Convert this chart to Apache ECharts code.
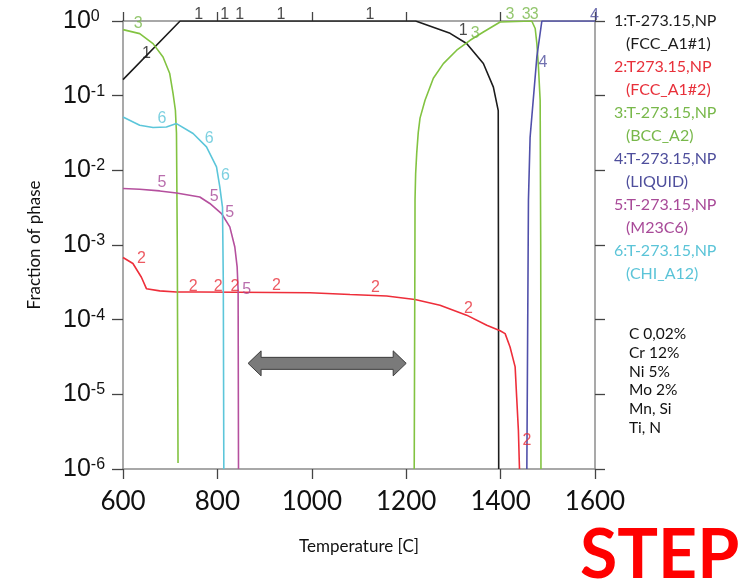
<!DOCTYPE html>
<html>
  <head>
    <meta charset="utf-8" />
    <title>STEP phase fractions</title>
    <script src="https://cdn.jsdelivr.net/npm/echarts@6.0.0/dist/echarts.min.js"></script>
  </head>
  <body style="margin:0;background:#fff">
    <div id="main" style="width: 739px;height:584px;"></div>
    <script type="text/javascript">
      // temperature [C] vs fraction of phase
      var fcc1 = [[600,0.164],[721,1],[1220,1],[1293,0.684],[1328,0.50],[1363.5,0.27],[1384.7,0.13],[1395,0.063],[1396,1e-6]];
      var fcc2 = [[600,6.8e-4],[621,5.65e-4],[639,3.7e-4],[649.6,2.6e-4],[677.8,2.43e-4],[713,2.35e-4],[763,2.35e-4],[996,2.29e-4],
                  [1081,2.17e-4],[1158.6,2.07e-4],[1218.6,1.86e-4],[1271.6,1.56e-4],[1328,1.15e-4],[1370.7,8.4e-5],[1399,7.1e-5],
                  [1409.6,6.5e-5],[1420,4.3e-5],[1430.8,2.33e-5],[1434,9.3e-6],[1437.7,3.3e-6],[1440,1e-6]];
      var bccLow = [[600,0.767],[635.4,0.678],[663.6,0.498],[684.8,0.33],[699,0.198],[706,0.107],[711,0.0638],[713.3,0.0316],[715,1e-3],[716.6,1.2e-6]];
      var bccHigh = [[1217,1e-6],[1218.5,1e-3],[1218.7,4e-3],[1220,0.009],[1222.3,0.017],[1225.5,0.032],[1229.3,0.05],[1239.9,0.087],
                     [1257.5,0.171],[1278.7,0.269],[1307,0.406],[1335.3,0.552],[1363.5,0.713],[1399,0.97],[1401,1],[1466,1],
                     [1473.3,0.794],[1476.8,0.5],[1480.2,0.242],[1483.8,0.087],[1485,1e-3],[1485.5,1e-6]];
      var liquid = [[1455.6,1e-6],[1459,4e-3],[1462.5,0.0277],[1476.8,0.33],[1487.4,1],[1600,1]];
      var m23c6 = [[600,5.7e-3],[635.4,5.58e-3],[677.8,5.3e-3],[713.3,4.98e-3],[762.7,4.4e-3],[783.9,3.6e-3],[808.7,2.64e-3],
                   [826.3,1.75e-3],[836.9,9.4e-4],[841.8,5.1e-4],[843.9,2.5e-4],[844.7,1e-6]];
      var chi = [[600,0.0519],[635.4,0.0402],[663.6,0.0374],[692,0.0381],[713.3,0.0423],[748.5,0.0311],[776.9,0.0206],
                 [798.1,0.0111],[805.1,6.0e-3],[810.8,3.2e-3],[812.5,3.2e-4],[813.6,1e-6]];

      // curve number labels (temperature, fraction)
      var labels1 = [[649.6,0.366],[760.6,1.21],[815.7,1.21],[847.5,1.21],[934.5,1.21],[1123.3,1.21],[1320.6,0.75]];
      var labels2 = [[639,6.6e-4],[748.5,2.8e-4],[801.5,2.8e-4],[837,2.8e-4],[925,2.9e-4],[1135,2.7e-4],[1332,1.41e-4],[1456,2.4e-6]];
      var labels3 = [[632,0.92],[1346,0.68],[1420,1.23],[1454,1.23],[1471,1.23]];
      var labels4 = [[1599,1.19],[1489.5,0.28]];
      var labels5 = [[682.7,6.8e-3],[793,4.4e-3],[826,2.7e-3],[862,2.5e-4]];
      var labels6 = [[682.7,0.0493],[782.4,0.0267],[817.2,8.4e-3]];

      var legendLines = [
        ['1:T-273.15,NP', '(FCC_A1#1)'],
        ['2:T273.15,NP', '(FCC_A1#2)'],
        ['3:T-273.15,NP', '(BCC_A2)'],
        ['4:T-273.15,NP', '(LIQUID)'],
        ['5:T-273.15,NP', '(M23C6)'],
        ['6:T-273.15,NP', '(CHI_A12)']
      ];
      var composition = ['C 0,02%', 'Cr 12%', 'Ni 5%', 'Mo 2%', 'Mn, Si', 'Ti, N'];
      var arrowSpan = [865, 1200];
      var arrowLevel = 2.6e-5;

      var lineColors = ['#1c1c1c', '#ee2e3a', '#82c341', '#5050aa', '#b5509e', '#5cc6da'];
      var textColors = ['#1c1c1c', '#e8303a', '#78b84a', '#4e4e9c', '#a84a98', '#5bc4d8'];

      var chartDom = document.getElementById('main');
      var myChart = echarts.init(chartDom);

      function lineSeries(data, i) {
        return {
          type: 'line', data: data, showSymbol: false, symbol: 'none',
          lineStyle: { color: lineColors[i], width: 1.6 }, silent: true
        };
      }
      function labelSeries(data, i) {
        return {
          type: 'scatter', data: data, symbolSize: 1, clip: false, silent: true, z: 5,
          itemStyle: { color: 'transparent' },
          label: {
            show: true, position: 'inside', formatter: String(i + 1),
            color: textColors[i], fontSize: 16, fontFamily: 'Liberation Sans'
          }
        };
      }

      var axisGrey = '#8c8c8c';
      var option = {
        animation: false,
        grid: { left: 123, right: 144, top: 21, bottom: 115 },
        xAxis: [
          {
            type: 'value', min: 600, max: 1600, interval: 200,
            name: 'Temperature [C]', nameLocation: 'middle', nameGap: 69,
            nameTextStyle: { fontSize: 17, fontFamily: 'Lato', color: '#111' },
            axisLine: { lineStyle: { color: axisGrey, width: 1.5 } },
            axisTick: { length: 10, lineStyle: { color: '#444', width: 1.3 } },
            axisLabel: { margin: 20, fontSize: 26, fontFamily: 'Lato', color: '#111',
              formatter: function (v) { return String(v); } },
            splitLine: { show: false }
          },
          {
            type: 'value', min: 600, max: 1600, interval: 200, position: 'top',
            axisLine: { lineStyle: { color: axisGrey, width: 1.5 } },
            axisTick: { length: 9, lineStyle: { color: '#444', width: 1.3 } },
            axisLabel: { show: false }, splitLine: { show: false }
          }
        ],
        yAxis: [
          {
            type: 'log', logBase: 10, min: 1e-6, max: 1, interval: 1,
            name: 'Fraction of phase', nameLocation: 'middle', nameGap: 80,
            nameTextStyle: { fontSize: 17, fontFamily: 'Lato', color: '#111' },
            axisLine: { show: true, lineStyle: { color: axisGrey, width: 1.5 } },
            axisTick: { show: true, length: 11, lineStyle: { color: '#444', width: 1.3 } },
            axisLabel: {
              align: 'left', margin: 60,
              formatter: function (v) { return '{b|10}{s|' + Math.round(Math.log10(v)) + '}'; },
              rich: {
                b: { fontSize: 25, fontFamily: 'Liberation Sans', color: '#111' },
                s: { fontSize: 16, fontFamily: 'Liberation Sans', color: '#111', verticalAlign: 'top' }
              }
            },
            splitLine: { show: false }
          },
          {
            type: 'log', logBase: 10, min: 1e-6, max: 1, interval: 1, position: 'right',
            axisLine: { show: true, lineStyle: { color: axisGrey, width: 1.5 } },
            axisTick: { show: true, length: 10, lineStyle: { color: '#444', width: 1.3 } },
            axisLabel: { show: false }, splitLine: { show: false }
          }
        ],
        series: [
          lineSeries(fcc1, 0), lineSeries(fcc2, 1), lineSeries(bccLow, 2), lineSeries(bccHigh, 2),
          lineSeries(liquid, 3), lineSeries(m23c6, 4), lineSeries(chi, 5),
          labelSeries(labels1, 0), labelSeries(labels2, 1), labelSeries(labels3, 2),
          labelSeries(labels4, 3), labelSeries(labels5, 4), labelSeries(labels6, 5)
        ]
      };
      myChart.setOption(option);

      // annotations: legend block, composition, double arrow, STEP
      var graphics = [];
      legendLines.forEach(function (pair, i) {
        var y0 = 23 + 46 * i;
        graphics.push({ type: 'text', left: 614, top: y0 - 10, silent: true,
          style: { text: pair[0], fill: textColors[i], font: '16px Lato' } });
        graphics.push({ type: 'text', left: 626, top: y0 + 13, silent: true,
          style: { text: pair[1], fill: textColors[i], font: '16px Lato' } });
      });
      composition.forEach(function (t, i) {
        graphics.push({ type: 'text', left: 629, top: 326 + 18.8 * i, silent: true,
          style: { text: t, fill: '#111', font: '15.5px Lato' } });
      });

      var p1 = myChart.convertToPixel({ xAxisIndex: 0, yAxisIndex: 0 }, [arrowSpan[0], arrowLevel]);
      var p2 = myChart.convertToPixel({ xAxisIndex: 0, yAxisIndex: 0 }, [arrowSpan[1], arrowLevel]);
      var ay = p1[1], x1 = p1[0], x2 = p2[0], hl = 13, hh = 12.5, bh = 6;
      graphics.push({
        type: 'polygon', silent: true,
        shape: { points: [[x1, ay], [x1 + hl, ay - hh], [x1 + hl, ay - bh], [x2 - hl, ay - bh], [x2 - hl, ay - hh],
                          [x2, ay], [x2 - hl, ay + hh], [x2 - hl, ay + bh], [x1 + hl, ay + bh], [x1 + hl, ay + hh]] },
        style: { fill: '#7a7a7a', stroke: '#3c3c3c', lineWidth: 1 }
      });
      graphics.push({ type: 'text', left: 580, top: 522, silent: true,
        style: { text: 'STEP', fill: '#ff0000', font: 'bold 68px Lato' } });

      myChart.setOption({ graphic: graphics });
    </script>
  </body>
</html>
